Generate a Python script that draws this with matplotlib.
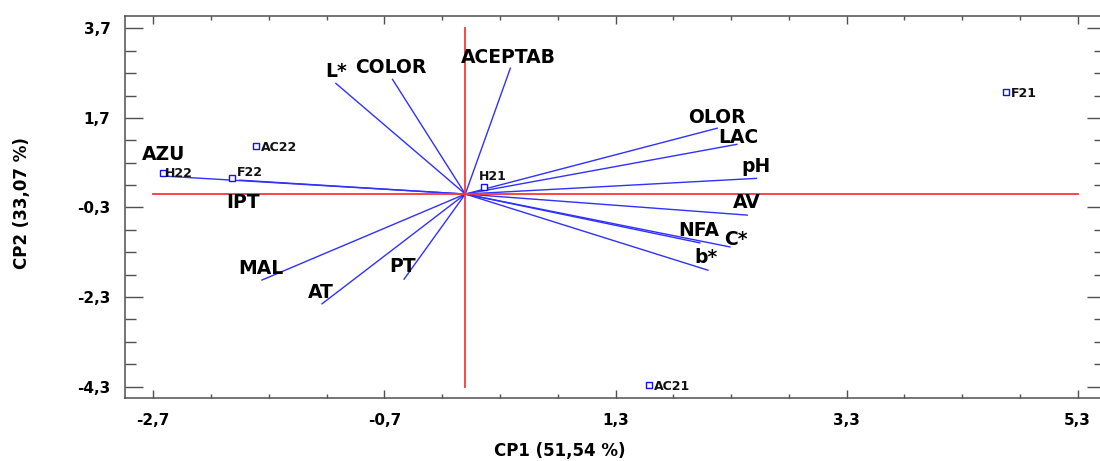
import matplotlib
matplotlib.use("Agg")
import matplotlib.pyplot as plt
import numpy as np
from matplotlib.ticker import FixedLocator, FixedFormatter

# ---- Variable loadings (biplot vectors) ----
var_names = ["L*", "COLOR", "ACEPTAB", "OLOR", "LAC", "pH", "AV", "NFA", "C*", "b*",
             "MAL", "AT", "PT", "AZU", "IPT"]
var_cp1 = [-1.12, -0.63, 0.39, 2.18, 2.35, 2.52, 2.44, 2.03, 2.29, 2.10,
           -1.76, -1.24, -0.53, -2.60, -1.95]
var_cp2 = [2.47, 2.56, 2.81, 1.47, 1.11, 0.35, -0.47, -1.09, -1.18, -1.70,
           -1.92, -2.45, -1.90, 0.40, 0.31]

# ---- Sample scores ----
obs_names = ["H22", "F22", "AC22", "H21", "F21", "AC21"]
obs_cp1 = [-2.62, -2.02, -1.81, 0.16, 4.68, 1.59]
obs_cp2 = [0.48, 0.35, 1.08, 0.15, 2.27, -4.26]

# ---- Ticks ----
x_ticks = [-2.7, -0.7, 1.3, 3.3, 5.3]
x_ticklabels = ["-2,7", "-0,7", "1,3", "3,3", "5,3"]
y_ticks = [-4.3, -2.3, -0.3, 1.7, 3.7]
y_ticklabels = ["-4,3", "-2,3", "-0,3", "1,7", "3,7"]

x_label = "CP1 (51,54 %)"
y_label = "CP2 (33,07 %)"

# label placement offsets (points)
var_label_off = [(0.2, 4.8), (-1.4, 4.3), (-1.2, 4.0), (-0.3, 3.6), (1.4, 1.2),
                 (-0.6, 4.8), (-0.4, 4.8), (-0.6, 4.8), (4.1, 1.7), (-1.6, 5.5),
                 (-1.0, 4.3), (-1.0, 4.5), (-0.9, 5.3), (-1.2, 11.5), (1.9, -20.2)]
obs_label_off = [(1.9, -3.2), (3.6, 1.9), (3.1, -3.6), (-3.6, 5.5), (3.1, -3.6), (3.3, -3.6)]

plt.rcParams['font.family'] = ['DejaVu Sans']
plt.rcParams['font.weight'] = 'bold'

fig = plt.figure(figsize=(11, 4.61), dpi=100)
ax = fig.add_axes([125 / 1100, 63 / 461, 980 / 1100, 382 / 461])

ax.set_xlim(-2.945, 5.536)
ax.set_ylim(-4.553, 3.975)

blue = '#3030ff'
red = '#ff3535'

for x, y in zip(var_cp1, var_cp2):
    ax.plot([0, x], [0, y], color=blue, lw=1.0, zorder=2)

ax.plot([0, 0], [y_ticks[0], y_ticks[-1]], color=red, lw=1.3, zorder=3)
ax.plot([x_ticks[0], x_ticks[-1]], [0, 0], color=red, lw=1.3, zorder=3)

for name, x, y, off in zip(var_names, var_cp1, var_cp2, var_label_off):
    ax.annotate(name, (x, y), xytext=off, textcoords='offset points',
                ha='center', va='baseline', fontsize=13.5, fontweight='bold',
                color='black', zorder=5)

ax.plot(obs_cp1, obs_cp2, linestyle='none', marker='s', markersize=4.2,
        markerfacecolor='white', markeredgecolor='#1010ff', markeredgewidth=1.0, zorder=4)
for name, x, y, off in zip(obs_names, obs_cp1, obs_cp2, obs_label_off):
    ax.annotate(name, (x, y), xytext=off, textcoords='offset points',
                ha='left', va='baseline', fontsize=9, fontweight='bold',
                color='#111111', zorder=5)

# ticks
ax.xaxis.set_major_locator(FixedLocator(x_ticks))
ax.xaxis.set_major_formatter(FixedFormatter(x_ticklabels))
ax.yaxis.set_major_locator(FixedLocator(y_ticks))
ax.yaxis.set_major_formatter(FixedFormatter(y_ticklabels))
ax.xaxis.set_minor_locator(FixedLocator(np.arange(x_ticks[0], x_ticks[-1] + 0.01, 0.5)))
ax.yaxis.set_minor_locator(FixedLocator(np.arange(y_ticks[0], y_ticks[-1] + 0.01, 0.5)))

spine_c = '#505050'
for s in ax.spines.values():
    s.set_color(spine_c)
    s.set_linewidth(1.1)

ax.tick_params(axis='both', which='both', direction='in', top=True, right=True,
               color=spine_c, width=1.0)
ax.tick_params(axis='x', which='major', length=5.5, pad=10.5, labelsize=11)
ax.tick_params(axis='x', which='minor', length=3.2)
ax.tick_params(axis='y', which='major', length=13, pad=10.5, labelsize=11)
ax.tick_params(axis='y', which='minor', length=8)
for lab in ax.get_xticklabels() + ax.get_yticklabels():
    lab.set_fontweight('bold')

ax.set_xlabel(x_label, fontsize=12, fontweight='bold', va='center', ha='center')
ax.xaxis.set_label_coords((560 - 125) / 980, (398 - 451) / 382)
ax.set_ylabel(y_label, fontsize=12, fontweight='bold', va='center', ha='center')
ax.yaxis.set_label_coords((22 - 125) / 980, (398 - 203) / 382)

fig.savefig('out.png', dpi=100)
